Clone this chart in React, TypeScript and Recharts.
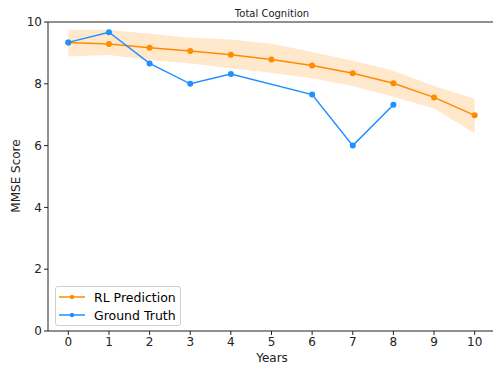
import React from 'react';
import { ComposedChart, Line, Area, XAxis, YAxis, ReferenceLine } from 'recharts';

const years = [0, 1, 2, 3, 4, 5, 6, 7, 8, 9, 10];
const rlPrediction = [9.34, 9.29, 9.17, 9.06, 8.94, 8.79, 8.59, 8.34, 8.02, 7.56, 6.98];
const bandLow = [8.88, 8.93, 8.77, 8.66, 8.5, 8.36, 8.18, 7.93, 7.58, 7.2, 6.4];
const bandHigh = [9.75, 9.74, 9.62, 9.49, 9.43, 9.3, 9.03, 8.75, 8.42, 7.93, 7.52];
const groundTruth: (number | null)[] = [9.34, 9.67, 8.66, 8.0, 8.32, null, 7.65, 6.0, 7.32, null, null];
const xTicks = [0, 1, 2, 3, 4, 5, 6, 7, 8, 9, 10];
const yTicks = [0, 2, 4, 6, 8, 10];
const seriesNames = ['RL Prediction', 'Ground Truth'];

const data = years.map((y, i) => ({
  year: y,
  rl: rlPrediction[i],
  band: [bandLow[i], bandHigh[i]],
  gt: groundTruth[i],
}));

const FONT = "'DejaVu Sans', sans-serif";
const ORANGE = '#ff8c00';
const BLUE = '#1e90ff';

const LegendBox = () => (
  <div
    style={{
      position: 'absolute',
      left: 55,
      top: 286,
      width: 126,
      height: 40,
      border: '1px solid #d0d0d0',
      borderRadius: 3,
      background: 'rgba(255,255,255,0.8)',
      fontFamily: FONT,
      fontSize: 12.5,
      color: '#000',
      boxSizing: 'border-box',
      paddingTop: 1,
    }}
  >
    {[
      { name: seriesNames[0], color: ORANGE },
      { name: seriesNames[1], color: BLUE },
    ].map((e) => (
      <div key={e.name} style={{ display: 'flex', alignItems: 'center', height: 18 }}>
        <svg width={38} height={18} style={{ flex: 'none' }}>
          <line x1={3} x2={29} y1={9} y2={9} stroke={e.color} strokeWidth={1.5} />
          <circle cx={16} cy={9} r={2.2} fill={e.color} />
        </svg>
        <span style={{ whiteSpace: 'nowrap' }}>{e.name}</span>
      </div>
    ))}
  </div>
);

export default function App() {
  return (
    <div style={{ position: 'absolute', left: 0, top: 0, width: 493, height: 370, overflow: 'hidden', background: '#fff' }}>
      <ComposedChart
        width={500}
        height={370}
        data={data}
        margin={{ top: 22, right: 5, bottom: 0, left: 0 }}
      >
        <XAxis
          dataKey="year"
          type="number"
          domain={[-0.5, 10.5]}
          ticks={xTicks}
          allowDataOverflow
          height={39}
          tickSize={4}
          tickMargin={2}
          stroke="#222"
          tick={{ fill: '#222', fontSize: 12, fontFamily: FONT }}
          label={{
            content: () => (
              <text x={272} y={358} textAnchor="middle" dominantBaseline="central" fontFamily={FONT} fontSize={12} fill="#222">
                Years
              </text>
            ),
          }}
        />
        <YAxis
          type="number"
          domain={[0, 10]}
          ticks={yTicks}
          allowDataOverflow
          width={48}
          tickSize={4}
          tickMargin={2}
          stroke="#222"
          tick={{ fill: '#222', fontSize: 12, fontFamily: FONT }}
          label={{
            content: () => (
              <text
                x={16}
                y={176}
                transform="rotate(-90 16 176)"
                textAnchor="middle"
                dominantBaseline="central"
                fontFamily={FONT}
                fontSize={12}
                fill="#222"
              >
                MMSE Score
              </text>
            ),
          }}
        />
        <ReferenceLine
          y={10}
          stroke="#222"
          ifOverflow="visible"
          label={{
            content: () => (
              <text x={272} y={13} textAnchor="middle" dominantBaseline="central" fontFamily={FONT} fontSize={10} fill="#222">
                Total Cognition
              </text>
            ),
          }}
        />
        <ReferenceLine x={10.5} stroke="#222" ifOverflow="visible" />
        <Area
          dataKey="band"
          stroke="none"
          fill={ORANGE}
          fillOpacity={0.2}
          isAnimationActive={false}
          legendType="none"
        />
        <Line
          dataKey="rl"
          name={seriesNames[0]}
          stroke={ORANGE}
          strokeWidth={1.5}
          dot={{ r: 3, fill: ORANGE, stroke: 'none' }}
          activeDot={false}
          isAnimationActive={false}
        />
        <Line
          dataKey="gt"
          name={seriesNames[1]}
          stroke={BLUE}
          strokeWidth={1.5}
          connectNulls
          dot={{ r: 3, fill: BLUE, stroke: 'none' }}
          activeDot={false}
          isAnimationActive={false}
        />
      </ComposedChart>
      <LegendBox />
    </div>
  );
}
